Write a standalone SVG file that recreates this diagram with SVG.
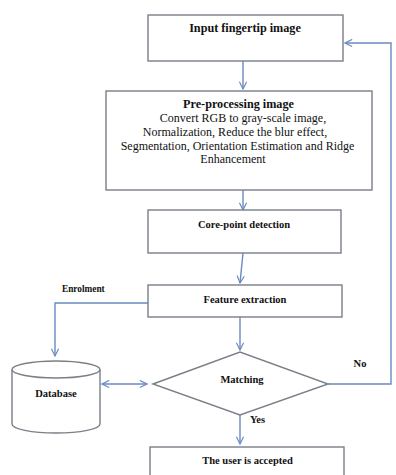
<svg xmlns="http://www.w3.org/2000/svg" width="396" height="475" viewBox="0 0 396 475">
<defs>
<style>
text{font-family:"Liberation Serif","Times New Roman","DejaVu Serif",serif;fill:#111;text-anchor:middle}
.box{fill:#fff;stroke:#7a7f88;stroke-width:1.4}
.con{fill:none;stroke:#6a8bbf;stroke-width:1.4}
.r{font-size:12px}
.b{font-weight:bold;font-size:10.5px}
.big{font-size:12.2px}
</style>
<marker id="ah" viewBox="0 0 10 10" refX="9" refY="5" markerWidth="9" markerHeight="9" markerUnits="userSpaceOnUse" orient="auto-start-reverse">
<path d="M1,1 L9,5 L1,9" fill="none" stroke="#6a8bbf" stroke-width="1.3"/>
</marker>
</defs>
<rect width="396" height="475" fill="#fff"/>
<g id="connectors">
<path class="con" d="M243,61 L243,89" marker-end="url(#ah)"/>
<path class="con" d="M243,190 L243,210" marker-end="url(#ah)"/>
<path class="con" d="M243,253 L240,283" marker-end="url(#ah)"/>
<path class="con" d="M148,303 L55,303 L55,356" marker-end="url(#ah)"/>
<path class="con" d="M240,317 L240,350" marker-end="url(#ah)"/>
<path class="con" d="M102,384 L147,384" marker-start="url(#ah)" marker-end="url(#ah)"/>
<path class="con" d="M328,384 L391,384 L391,43 L345,43" marker-end="url(#ah)"/>
<path class="con" d="M240,415 L240,444" marker-end="url(#ah)"/>
</g>
<g id="input">
<rect class="box" x="148" y="15" width="195" height="46"/>
<text class="b big" x="245" y="32">Input fingertip image</text>
</g>
<g id="preprocessing">
<rect class="box" x="106" y="91" width="266" height="99"/>
<text class="b big" x="238.5" y="108">Pre-processing image</text>
<text class="r" x="243" y="122">Convert RGB to gray-scale image,</text>
<text class="r" x="235" y="136">Normalization, Reduce the blur effect,</text>
<text class="r" x="237.5" y="149.5">Segmentation, Orientation Estimation and  Ridge</text>
<text class="r" x="233" y="163">Enhancement</text>
</g>
<g id="corepoint">
<rect class="box" x="148" y="210" width="193" height="43"/>
<text class="b" x="244" y="228">Core-point detection</text>
</g>
<g id="feature">
<rect class="box" x="148" y="285" width="194" height="32"/>
<text class="b" x="245" y="302.5">Feature extraction</text>
</g>
<g id="database">
<path class="box" d="M12,369.5 L12,424 A44,9 0 0 0 100,424 L100,369.5"/>
<ellipse class="box" cx="56" cy="369.5" rx="44" ry="8.5"/>
<text class="b" x="56" y="397">Database</text>
</g>
<g id="matching">
<polygon class="box" points="153,384 240,352 328,384 240,415"/>
<text class="b" x="242" y="383">Matching</text>
</g>
<g id="accepted">
<rect class="box" x="150" y="447" width="194" height="40"/>
<text class="b" x="247.5" y="464">The user is accepted</text>
</g>
<g id="labels">
<text class="b" x="62" y="292" style="text-anchor:start;font-size:9.3px">Enrolment</text>
<text class="b" x="360" y="367">No</text>
<text class="b" x="257.5" y="423">Yes</text>
</g>
</svg>
